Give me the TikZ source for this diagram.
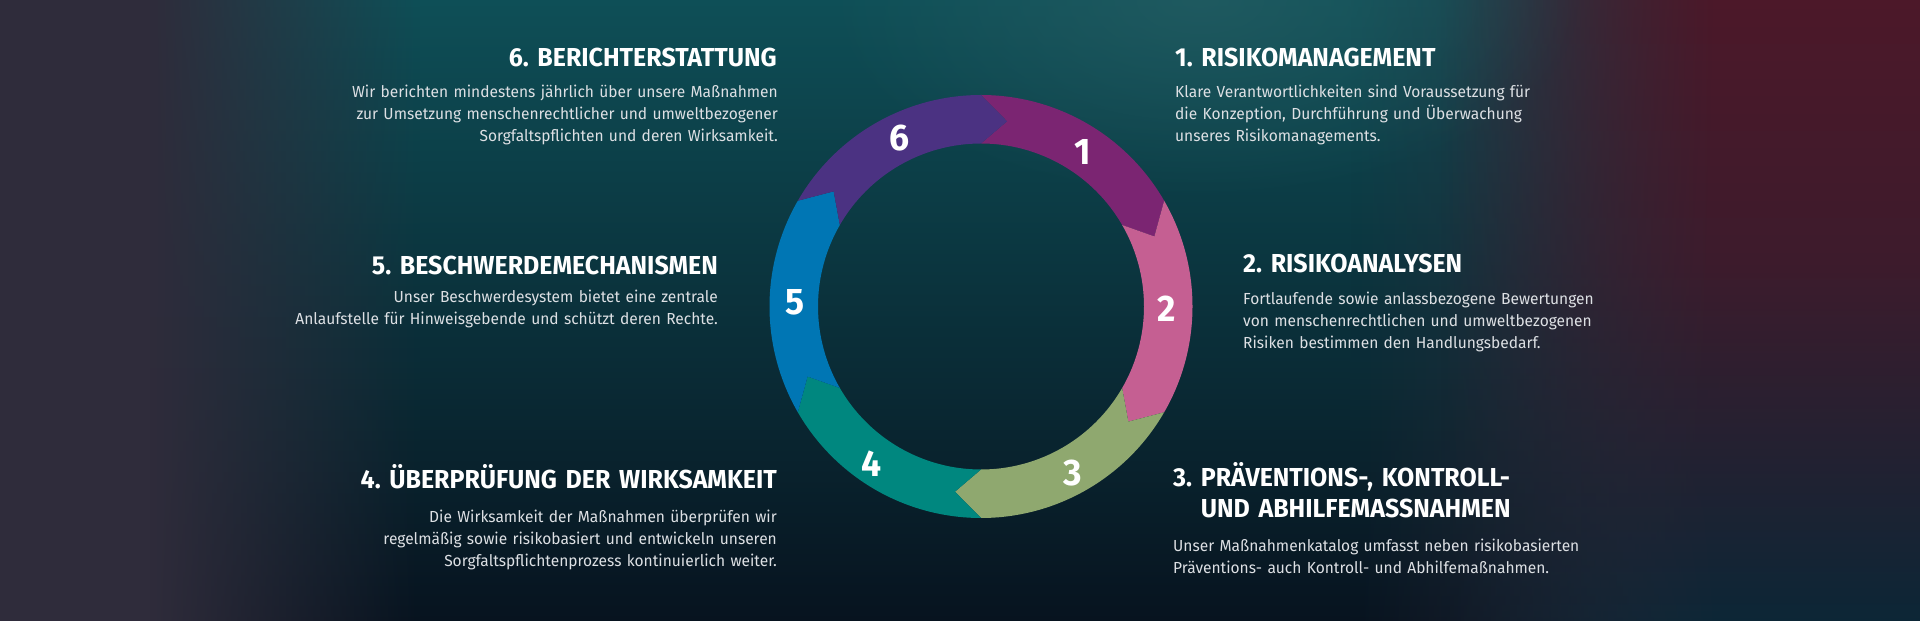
\documentclass[tikz,border=0pt]{standalone}
\usepackage{fontspec}
\setmainfont{Fira Sans}[FakeStretch=0.97]
\newfontfamily\headfont{Fira Sans}[FakeStretch=0.96]
\usetikzlibrary{fadings}
\frenchspacing

\definecolor{bgbase}{HTML}{2F2C3B}
\definecolor{bgteal}{HTML}{0E4F57}
\definecolor{bgmid}{HTML}{0A3843}
\definecolor{bgnavy}{HTML}{07131F}
\definecolor{bgred}{HTML}{4C1829}
\definecolor{bgredmid}{HTML}{3D1B2C}
\definecolor{bgredlow}{HTML}{0C2636}
\definecolor{bgglow}{HTML}{2A6166}
\definecolor{bodytext}{HTML}{DDE0E4}
\definecolor{seg1}{HTML}{7B2572}
\definecolor{seg2}{HTML}{C55F92}
\definecolor{seg3}{HTML}{8FA86F}
\definecolor{seg4}{HTML}{00877F}
\definecolor{seg5}{HTML}{0076B4}
\definecolor{seg6}{HTML}{4B3282}

\tikzfading[name=fadeleft, left color=transparent!100, right color=transparent!0]
\tikzfading[name=faderight, left color=transparent!0, right color=transparent!100]
\tikzfading[name=glowfade, inner color=transparent!40, outer color=transparent!100]

\begin{document}
\begin{tikzpicture}[x=1pt, y=1pt,
  heading/.style={inner sep=0pt, text=white, text width=480pt,
    font=\headfont\bfseries\fontsize{26}{31}\selectfont},
  para/.style={inner sep=0pt, text=bodytext, text width=480pt,
    font=\fontsize{16}{22}\selectfont},
  digit/.style={inner sep=0pt, text=white,
    font=\headfont\bfseries\fontsize{37}{37}\selectfont}]

  % Background
  \useasboundingbox (0,0) rectangle (1920,621);
  \fill[bgbase] (0,0) rectangle (1920,621);
  \shade[top color=bgteal, middle color=bgmid, bottom color=bgnavy] (420,0) rectangle (1350,621);
  \shade[top color=bgteal, middle color=bgmid, bottom color=bgnavy, path fading=fadeleft]
    (150,0) rectangle (420,621);
  \shade[top color=bgteal, middle color=bgmid, bottom color=bgnavy, path fading=faderight]
    (1350,0) rectangle (1750,621);
  % red glow, top right
  \shade[top color=bgred, bottom color=bgredmid, path fading=fadeleft] (1440,360) rectangle (1720,621);
  \shade[top color=bgredmid, bottom color=bgredlow, path fading=fadeleft] (1440,0) rectangle (1720,360);
  \shade[top color=bgred, bottom color=bgredmid] (1720,360) rectangle (1920,621);
  \shade[top color=bgredmid, bottom color=bgredlow] (1720,0) rectangle (1920,360);
  \fill[bgglow, path fading=glowfade] (1200,621) ellipse (380pt and 200pt);

  % Ring centre and radii
  \coordinate (C) at (981,314.5);
  \def\rout{211.5pt}
  \def\rin{163pt}
  \def\rmid{187pt}
  \def\tip{8} % degrees

  \begin{scope}[shift={(C)}]
    % Six arrow segments, clockwise from the top
    \fill[seg1] (90:\rout) arc[start angle=90, end angle=30, radius=\rout] -- ({30-\tip}:\rmid)
      -- (30:\rin) arc[start angle=30, end angle=90, radius=\rin] -- ({90-\tip}:\rmid) -- cycle;
    \fill[seg2] (30:\rout) arc[start angle=30, end angle=-30, radius=\rout] -- ({-30-\tip}:\rmid)
      -- (-30:\rin) arc[start angle=-30, end angle=30, radius=\rin] -- ({30-\tip}:\rmid) -- cycle;
    \fill[seg3] (-30:\rout) arc[start angle=-30, end angle=-90, radius=\rout] -- ({-90-\tip}:\rmid)
      -- (-90:\rin) arc[start angle=-90, end angle=-30, radius=\rin] -- ({-30-\tip}:\rmid) -- cycle;
    \fill[seg4] (-90:\rout) arc[start angle=-90, end angle=-150, radius=\rout] -- ({-150-\tip}:\rmid)
      -- (-150:\rin) arc[start angle=-150, end angle=-90, radius=\rin] -- ({-90-\tip}:\rmid) -- cycle;
    \fill[seg5] (-150:\rout) arc[start angle=-150, end angle=-210, radius=\rout] -- ({150-\tip}:\rmid)
      -- (150:\rin) arc[start angle=150, end angle=210, radius=\rin] -- ({-150-\tip}:\rmid) -- cycle;
    \fill[seg6] (150:\rout) arc[start angle=150, end angle=90, radius=\rout] -- ({90-\tip}:\rmid)
      -- (90:\rin) arc[start angle=90, end angle=150, radius=\rin] -- ({150-\tip}:\rmid) -- cycle;

    % Step numbers
    \node[digit] (N1) at (56.5:185pt) {1};
    \node[digit] (N2) at (-0.6:186pt) {2};
    \node[digit] (N3) at (-61:190pt) {3};
    \node[digit] (N4) at (-124.8:191pt) {4};
    \node[digit] (N5) at (178.8:186pt) {5};
    \node[digit] (N6) at (116:187pt) {6};
  \end{scope}

  % Right column
  \node[heading, align=left, anchor=base west] (H1) at (1175,554.3) {1. RISIKOMANAGEMENT};
  \node[para, align=left, anchor=base west] (P1) at (1175,523.3)
    {Klare Verantwortlichkeiten sind Voraussetzung für\\
     die Konzeption, Durchführung und Überwachung\\
     unseres Risikomanagements.};

  \node[heading, align=left, anchor=base west] (H2) at (1243,348.3) {2. RISIKOANALYSEN};
  \node[para, align=left, anchor=base west] (P2) at (1243,316)
    {Fortlaufende sowie anlassbezogene Bewertungen\\
     von menschenrechtlichen und umweltbezogenen\\
     Risiken bestimmen den Handlungsbedarf.};

  \node[heading, align=left, anchor=base west] (H3) at (1173,134)
    {3. PRÄVENTIONS-, KONTROLL-\\
     \hphantom{3. }UND ABHILFEMASSNAHMEN};
  \node[para, align=left, anchor=base west] (P3) at (1173,69)
    {Unser Maßnahmenkatalog umfasst neben risikobasierten\\
     Präventions- auch Kontroll- und Abhilfemaßnahmen.};

  % Left column
  \node[heading, align=right, anchor=base east] (H6) at (777,554.3) {6. BERICHTERSTATTUNG};
  \node[para, align=right, anchor=base east] (P6) at (778,523.3)
    {Wir berichten mindestens jährlich über unsere Maßnahmen\\
     zur Umsetzung menschenrechtlicher und umweltbezogener\\
     Sorgfaltspflichten und deren Wirksamkeit.};

  \node[heading, align=right, anchor=base east] (H5) at (718,346) {5. BESCHWERDEMECHANISMEN};
  \node[para, align=right, anchor=base east] (P5) at (718,318)
    {Unser Beschwerdesystem bietet eine zentrale\\
     Anlaufstelle für Hinweisgebende und schützt deren Rechte.};

  \node[heading, align=right, anchor=base east] (H4) at (777,132) {4. ÜBERPRÜFUNG DER WIRKSAMKEIT};
  \node[para, align=right, anchor=base east] (P4) at (777,98)
    {Die Wirksamkeit der Maßnahmen überprüfen wir\\
     regelmäßig sowie risikobasiert und entwickeln unseren\\
     Sorgfaltspflichtenprozess kontinuierlich weiter.};

\end{tikzpicture}
\end{document}
